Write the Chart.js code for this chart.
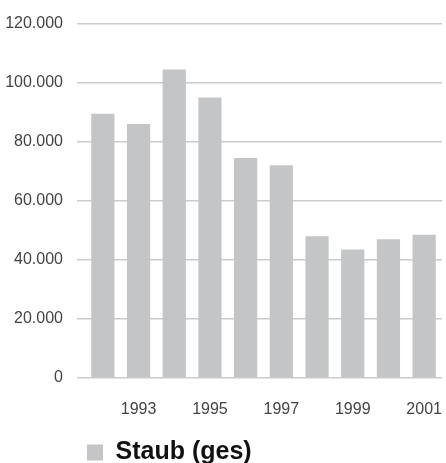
<!DOCTYPE html>
<html lang="de">
<head>
    <meta charset="UTF-8">
    <title>Staub (ges)</title>
    <style>
        html, body { margin: 0; padding: 0; overflow: hidden; background: #fff; }
        #wrap { width: 446px; height: 475px; position: relative; }
    </style>
</head>
<body>
    <div id="wrap"><canvas id="chart"></canvas></div>

    <script src="https://cdn.jsdelivr.net/npm/chart.js@4/dist/chart.umd.min.js"></script>
    <script>
        // data
        const years = ['1992', '1993', '1994', '1995', '1996', '1997', '1998', '1999', '2000', '2001'];
        const staub = [89500, 86000, 104500, 95000, 74500, 72000, 48000, 43500, 47000, 48500];
        const shownYears = ['1993', '1995', '1997', '1999', '2001'];
        const seriesName = 'Staub (ges)';

        const fmt = v => v.toLocaleString('de-DE');
        const tickFont = { family: 'Liberation Sans, Arial, sans-serif', size: 16 };

        new Chart(document.getElementById('chart'), {
            type: 'bar',
            data: {
                labels: years,
                datasets: [{
                    label: seriesName,
                    data: staub,
                    backgroundColor: '#c4c5c7',
                    categoryPercentage: 1,
                    barPercentage: 0.65
                }]
            },
            options: {
                responsive: true,
                maintainAspectRatio: false,
                animation: false,
                layout: { padding: { top: 18, right: 4, left: 0, bottom: 0 } },
                plugins: {
                    tooltip: { enabled: false },
                    legend: {
                        position: 'bottom',
                        align: 'start',
                        fullSize: false,
                        labels: {
                            boxWidth: 16,
                            boxHeight: 16,
                            padding: 2,
                            color: '#111',
                            font: { family: 'Liberation Sans, Arial, sans-serif', size: 25, weight: 'bold' }
                        }
                    }
                },
                scales: {
                    x: {
                        afterFit: s => { s.height = 60; },
                        grid: { display: false, tickLength: 20 },
                        border: { display: false },
                        ticks: {
                            autoSkip: false,
                            maxRotation: 0,
                            padding: 2,
                            color: '#444',
                            font: tickFont,
                            callback: function (v) {
                                const y = this.getLabelForValue(v);
                                return shownYears.includes(y) ? y : '';
                            }
                        }
                    },
                    y: {
                        min: 0,
                        max: 120000,
                        afterFit: s => { s.width = 85; },
                        grid: { color: '#cccccc', lineWidth: 1.5, tickLength: 8 },
                        border: { display: false },
                        ticks: {
                            stepSize: 20000,
                            padding: 14,
                            color: '#444',
                            font: tickFont,
                            callback: v => fmt(v)
                        }
                    }
                }
            }
        });
    </script>
</body>
</html>
